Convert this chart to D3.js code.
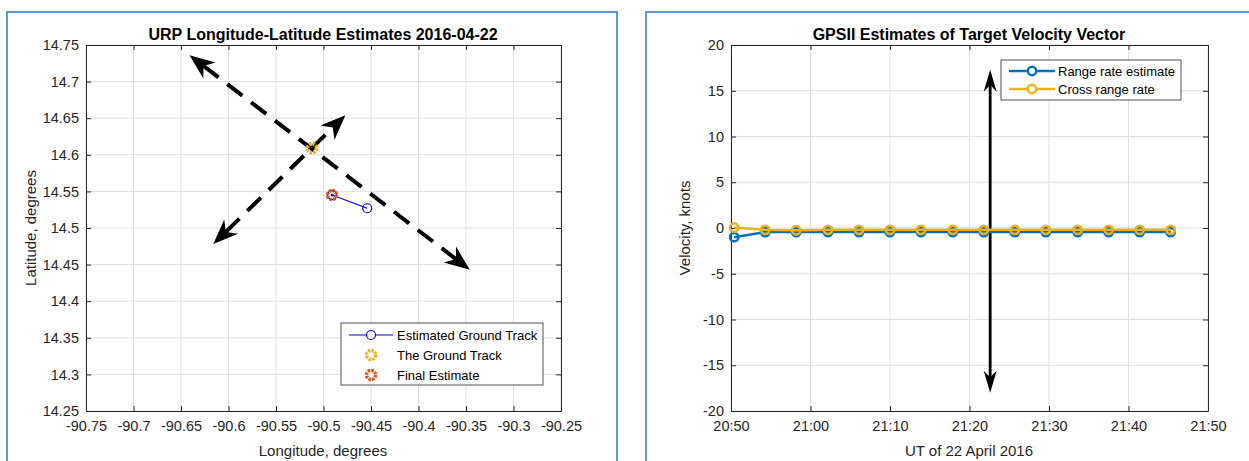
<!DOCTYPE html>
<html>
<head>
<meta charset="utf-8">
<script src="https://cdn.jsdelivr.net/npm/d3@7"></script>
<style>
  body { margin: 0; background: #fff; }
  svg { font-family: "Liberation Sans", Arial, sans-serif; }
  .grid line { stroke: #dfdfdf; stroke-width: 1; }
  .tick text { fill: #262626; font-size: 14.5px; }
</style>
</head>
<body>
<div id="chart"></div>
<script>
// ---- left panel data
var lonTicks = [-90.75, -90.7, -90.65, -90.6, -90.55, -90.5, -90.45, -90.4, -90.35, -90.3, -90.25];
var latTicks = [14.25, 14.3, 14.35, 14.4, 14.45, 14.5, 14.55, 14.6, 14.65, 14.7, 14.75];
var estTrackLon = [-90.491, -90.454];
var estTrackLat = [14.545, 14.527];
var groundTrack = [-90.512, 14.609];
var finalEstimate = [-90.491, 14.545];
// double headed arrows: [lon1, lat1, lon2, lat2]
var lonLatArrows = [
  [-90.641, 14.736, -90.346, 14.443],
  [-90.616, 14.478, -90.477, 14.654]
];

// ---- right panel data
var velTicks = [-20, -15, -10, -5, 0, 5, 10, 15, 20];
var sampleMinutes = [0.4, 4.3, 8.2, 12.2, 16.1, 20.0, 23.9, 27.9, 31.8, 35.7, 39.6, 43.6, 47.5, 51.4, 55.3];
var rangeRate = [-1.0, -0.45, -0.45, -0.45, -0.45, -0.45, -0.45, -0.45, -0.45, -0.45, -0.45, -0.45, -0.45, -0.45, -0.45];
var crossRange = [0.05, -0.2, -0.25, -0.2, -0.2, -0.2, -0.2, -0.2, -0.2, -0.2, -0.2, -0.2, -0.2, -0.2, -0.2];
var velArrow = [32.6, 17.3, 32.6, -18.0]; // minutes after 20:50, knots

var t0 = Date.UTC(2016, 3, 22, 20, 50);
function tm(m) { return new Date(t0 + m * 60000); }

var width = 1249, height = 461;
var svg = d3.select("#chart").append("svg")
    .attr("width", width)
    .attr("height", height);

// panel frames
svg.append("rect").attr("x", 7).attr("y", 12).attr("width", 610).attr("height", 470)
    .attr("fill", "none").attr("stroke", "#5b9bd5").attr("stroke-width", 2);
svg.append("rect").attr("x", 646).attr("y", 12).attr("width", 620).attr("height", 470)
    .attr("fill", "none").attr("stroke", "#5b9bd5").attr("stroke-width", 2);

function drawAxes(g, x, y, xTicks, yTicks, xFmt, yFmt) {
    var x0 = x.range()[0], x1 = x.range()[1], y0 = y.range()[0], y1 = y.range()[1];
    // grid
    var grid = g.append("g").attr("class", "grid");
    grid.selectAll(".gx").data(xTicks).enter().append("line")
        .attr("x1", function(d) { return x(d); }).attr("x2", function(d) { return x(d); })
        .attr("y1", y0).attr("y2", y1);
    grid.selectAll(".gy").data(yTicks).enter().append("line")
        .attr("y1", function(d) { return y(d); }).attr("y2", function(d) { return y(d); })
        .attr("x1", x0).attr("x2", x1);

    var ax = g.append("g").attr("transform", "translate(0," + y0 + ")")
        .call(d3.axisBottom(x).tickValues(xTicks).tickFormat(xFmt).tickSizeInner(-5).tickSizeOuter(0).tickPadding(10));
    var ay = g.append("g").attr("transform", "translate(" + x0 + ",0)")
        .call(d3.axisLeft(y).tickValues(yTicks).tickFormat(yFmt).tickSizeInner(-5).tickSizeOuter(0).tickPadding(7));
    var at = g.append("g").attr("transform", "translate(0," + y1 + ")")
        .call(d3.axisTop(x).tickValues(xTicks).tickFormat("").tickSizeInner(-5).tickSizeOuter(0));
    var ar = g.append("g").attr("transform", "translate(" + x1 + ",0)")
        .call(d3.axisRight(y).tickValues(yTicks).tickFormat("").tickSizeInner(-5).tickSizeOuter(0));
    [ax, ay, at, ar].forEach(function(a) {
        a.selectAll("path").attr("stroke", "#262626");
        a.selectAll("line").attr("stroke", "#262626");
        a.selectAll("text").style("font-family", "Liberation Sans, Arial, sans-serif");
    });
}

function headPoly(xt, yt, xb, yb, len, wid) {
    var dx = xt - xb, dy = yt - yb, L = Math.sqrt(dx * dx + dy * dy);
    var ux = dx / L, uy = dy / L, px = -uy, py = ux;
    var bx = xt - ux * len, by = yt - uy * len;
    var nx = xt - ux * len * 0.7, ny = yt - uy * len * 0.7;
    return [[xt, yt], [bx + px * wid / 2, by + py * wid / 2], [nx, ny], [bx - px * wid / 2, by - py * wid / 2]];
}

function doubleArrow(g, xa, ya, xb, yb, dashed, sw, len, wid) {
    var dx = xb - xa, dy = yb - ya, L = Math.sqrt(dx * dx + dy * dy);
    var ux = dx / L, uy = dy / L;
    g.append("line")
        .attr("x1", xa + ux * len * 0.7).attr("y1", ya + uy * len * 0.7)
        .attr("x2", xb - ux * len * 0.7).attr("y2", yb - uy * len * 0.7)
        .attr("stroke", "#000").attr("stroke-width", sw)
        .attr("stroke-dasharray", dashed ? "19,11" : null);
    [headPoly(xa, ya, xb, yb, len, wid), headPoly(xb, yb, xa, ya, len, wid)].forEach(function(p) {
        g.append("polygon").attr("points", p.map(function(q) { return q.join(","); }).join(" ")).attr("fill", "#000");
    });
}

function gearMarker(g, cx, cy, color) {
    g.append("circle").attr("cx", cx).attr("cy", cy).attr("r", 4.5)
        .attr("fill", "none").attr("stroke", color).attr("stroke-width", 3.5)
        .attr("stroke-dasharray", "2.4,1.1");
}

// ================= LEFT PANEL =================
var xL = d3.scaleLinear().domain([-90.75, -90.25]).range([86, 561]);
var yL = d3.scaleLinear().domain([14.25, 14.75]).range([411, 45]);
var gL = svg.append("g");
drawAxes(gL, xL, yL, lonTicks, latTicks, function(d) { return String(+d.toFixed(2)); }, function(d) { return String(+d.toFixed(2)); });

lonLatArrows.forEach(function(a) {
    doubleArrow(gL, xL(a[0]), yL(a[1]), xL(a[2]), yL(a[3]), true, 4, 25, 20);
});

var estLine = d3.line().x(function(d, i) { return xL(estTrackLon[i]); }).y(function(d, i) { return yL(estTrackLat[i]); });
gL.append("path").datum(estTrackLon).attr("d", estLine)
    .attr("fill", "none").attr("stroke", "#0000ff").attr("stroke-width", 1.2);
estTrackLon.forEach(function(v, i) {
    gL.append("circle").attr("cx", xL(v)).attr("cy", yL(estTrackLat[i])).attr("r", 4.5)
        .attr("fill", "none").attr("stroke", "#0000ff").attr("stroke-width", 1.2);
});
gearMarker(gL, xL(groundTrack[0]), yL(groundTrack[1]), "#edb120");
gearMarker(gL, xL(finalEstimate[0]), yL(finalEstimate[1]), "#d95319");
gL.append("circle").attr("cx", xL(finalEstimate[0])).attr("cy", yL(finalEstimate[1])).attr("r", 1.5).attr("fill", "#0000ff");

gL.append("text").attr("x", 323).attr("y", 40).attr("text-anchor", "middle")
    .attr("font-size", 16).attr("font-weight", "bold").attr("fill", "#000")
    .text("URP Longitude-Latitude Estimates 2016-04-22");
gL.append("text").attr("x", 323).attr("y", 456).attr("text-anchor", "middle")
    .attr("font-size", 15).attr("fill", "#262626").text("Longitude, degrees");
gL.append("text").attr("transform", "translate(36,228) rotate(-90)").attr("text-anchor", "middle")
    .attr("font-size", 15).attr("fill", "#262626").text("Latitude, degrees");

// legend left
var legL = gL.append("g");
legL.append("rect").attr("x", 341).attr("y", 323).attr("width", 202).attr("height", 62)
    .attr("fill", "#fff").attr("stroke", "#262626").attr("stroke-width", 0.8);
var legLItems = ["Estimated Ground Track", "The Ground Track", "Final Estimate"];
legLItems.forEach(function(name, i) {
    var yy = 335 + i * 20;
    if (i === 0) {
        legL.append("line").attr("x1", 349).attr("x2", 393).attr("y1", yy).attr("y2", yy)
            .attr("stroke", "#0000ff").attr("stroke-width", 1.2);
        legL.append("circle").attr("cx", 371).attr("cy", yy).attr("r", 4.5)
            .attr("fill", "#fff").attr("stroke", "#0000ff").attr("stroke-width", 1.2);
    } else {
        gearMarker(legL, 371, yy, i === 1 ? "#edb120" : "#d95319");
    }
    legL.append("text").attr("x", 397).attr("y", yy + 4.5).attr("font-size", 13).attr("fill", "#000").text(name);
});

// ================= RIGHT PANEL =================
var xR = d3.scaleUtc().domain([tm(0), tm(60)]).range([731, 1208]);
var yR = d3.scaleLinear().domain([-20, 20]).range([411, 45]);
var gR = svg.append("g");
var timeTicks = d3.range(0, 61, 10).map(tm);
drawAxes(gR, xR, yR, timeTicks, velTicks, d3.utcFormat("%H:%M"), function(d) { return String(d); });

doubleArrow(gR, xR(tm(velArrow[0])), yR(velArrow[1]), xR(tm(velArrow[2])), yR(velArrow[3]), false, 2.8, 22, 13);

var seriesR = [
    { name: "Range rate estimate", values: rangeRate, color: "#0072bd" },
    { name: "Cross range rate", values: crossRange, color: "#edb120" }
];
seriesR.forEach(function(s) {
    var line = d3.line().x(function(d, i) { return xR(tm(sampleMinutes[i])); }).y(function(d) { return yR(d); });
    gR.append("path").datum(s.values).attr("d", line)
        .attr("fill", "none").attr("stroke", s.color).attr("stroke-width", 2.5);
    gR.selectAll(null).data(s.values).enter().append("circle")
        .attr("cx", function(d, i) { return xR(tm(sampleMinutes[i])); })
        .attr("cy", function(d) { return yR(d); })
        .attr("r", 4.2).attr("fill", "none").attr("stroke", s.color).attr("stroke-width", 2.5);
});

gR.append("text").attr("x", 969).attr("y", 40).attr("text-anchor", "middle")
    .attr("font-size", 16).attr("font-weight", "bold").attr("fill", "#000")
    .text("GPSII Estimates of Target Velocity Vector");
gR.append("text").attr("x", 969).attr("y", 456).attr("text-anchor", "middle")
    .attr("font-size", 15).attr("fill", "#262626").text("UT of 22 April 2016");
gR.append("text").attr("transform", "translate(690,228) rotate(-90)").attr("text-anchor", "middle")
    .attr("font-size", 15).attr("fill", "#262626").text("Velocity, knots");

var legR = gR.append("g");
legR.append("rect").attr("x", 1001).attr("y", 60).attr("width", 180).attr("height", 40)
    .attr("fill", "#fff").attr("stroke", "#262626").attr("stroke-width", 0.8);
seriesR.forEach(function(s, i) {
    var yy = 71 + i * 18;
    legR.append("line").attr("x1", 1009).attr("x2", 1055).attr("y1", yy).attr("y2", yy)
        .attr("stroke", s.color).attr("stroke-width", 2.5);
    legR.append("circle").attr("cx", 1032).attr("cy", yy).attr("r", 4.2)
        .attr("fill", "#fff").attr("stroke", s.color).attr("stroke-width", 2.5);
    legR.append("text").attr("x", 1058).attr("y", yy + 4.5).attr("font-size", 13).attr("fill", "#000").text(s.name);
});
</script>
</body>
</html>
